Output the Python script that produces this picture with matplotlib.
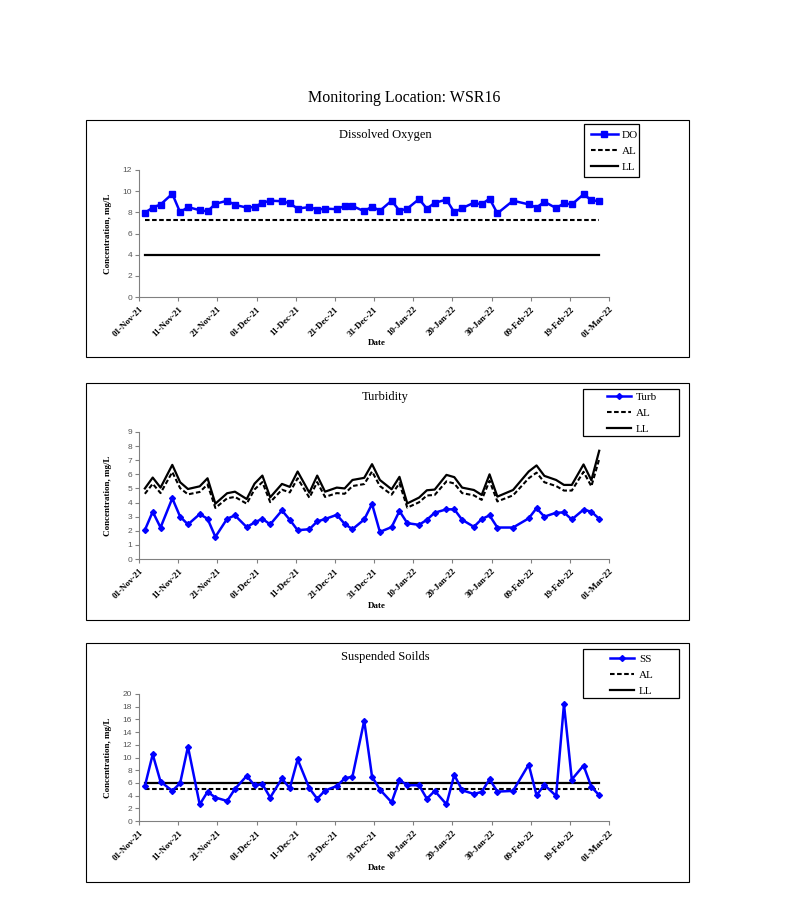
import numpy as np
import matplotlib
matplotlib.use("Agg")
import matplotlib.pyplot as plt
import matplotlib.dates as mdates
from matplotlib.patches import Rectangle

# ---------------- data ----------------
dates = ["2021-11-02", "2021-11-04", "2021-11-06", "2021-11-09", "2021-11-11", "2021-11-13",
         "2021-11-16", "2021-11-18", "2021-11-20", "2021-11-23", "2021-11-25", "2021-11-28",
         "2021-11-30", "2021-12-02", "2021-12-04", "2021-12-07", "2021-12-09", "2021-12-11",
         "2021-12-14", "2021-12-16", "2021-12-18", "2021-12-21", "2021-12-23", "2021-12-25",
         "2021-12-28", "2021-12-30", "2022-01-01", "2022-01-04", "2022-01-06", "2022-01-08",
         "2022-01-11", "2022-01-13", "2022-01-15", "2022-01-18", "2022-01-20", "2022-01-22",
         "2022-01-25", "2022-01-27", "2022-01-29", "2022-01-31", "2022-02-04", "2022-02-08",
         "2022-02-10", "2022-02-12", "2022-02-15", "2022-02-17", "2022-02-19", "2022-02-22",
         "2022-02-24", "2022-02-26"]

do_values = [7.95, 8.45, 8.74, 9.75, 8.0, 8.5, 8.2, 8.1, 8.8, 9.1, 8.7, 8.45, 8.5, 8.9, 9.1,
             9.05, 8.85, 8.35, 8.5, 8.25, 8.35, 8.3, 8.6, 8.6, 8.1, 8.55, 8.15, 9.1, 8.15, 8.35,
             9.25, 8.35, 8.9, 9.2, 8.0, 8.4, 8.9, 8.75, 9.3, 7.9, 9.1, 8.75, 8.45, 9.0, 8.4,
             8.85, 8.75, 9.7, 9.15, 9.05]
do_al = 7.3
do_ll = 4.0

turb_values = [2.05, 3.35, 2.23, 4.3, 3.0, 2.45, 3.18, 2.85, 1.57, 2.85, 3.09, 2.26, 2.59, 2.85,
               2.45, 3.44, 2.78, 2.04, 2.11, 2.66, 2.83, 3.13, 2.49, 2.11, 2.8, 3.9, 1.92, 2.26,
               3.4, 2.54, 2.42, 2.78, 3.28, 3.52, 3.52, 2.78, 2.28, 2.83, 3.09, 2.23, 2.23, 2.88,
               3.6, 3.0, 3.28, 3.3, 2.8, 3.5, 3.35, 2.85]
turb_ll = [5.0, 5.77, 5.06, 6.67, 5.44, 4.96, 5.15, 5.72, 3.92, 4.66, 4.77, 4.25, 5.34, 5.91,
           4.37, 5.32, 5.11, 6.2, 4.7, 5.91, 4.77, 5.06, 5.0, 5.6, 5.75, 6.72, 5.6, 4.94, 5.82,
           3.94, 4.35, 4.87, 4.92, 5.96, 5.8, 5.06, 4.89, 4.54, 6.0, 4.42, 4.89, 6.2, 6.63,
           5.89, 5.6, 5.25, 5.25, 6.7, 5.58, 7.67]
turb_al = [4.62, 5.33, 4.67, 6.16, 5.02, 4.58, 4.75, 5.28, 3.62, 4.30, 4.40, 3.92, 4.93, 5.45,
           4.03, 4.91, 4.72, 5.72, 4.34, 5.45, 4.40, 4.67, 4.62, 5.17, 5.31, 6.20, 5.17, 4.56,
           5.37, 3.64, 4.02, 4.50, 4.54, 5.50, 5.35, 4.67, 4.51, 4.19, 5.54, 4.08, 4.51, 5.72,
           6.12, 5.44, 5.17, 4.85, 4.85, 6.18, 5.15, 7.08]

ss_values = [5.5, 10.5, 6.2, 4.75, 5.95, 11.7, 2.6, 4.6, 3.7, 3.15, 5.05, 7.1, 5.6, 5.8, 3.7,
             6.7, 5.15, 9.7, 5.15, 3.5, 4.8, 5.5, 6.7, 7.0, 15.8, 7.0, 4.95, 2.95, 6.47, 5.63,
             5.63, 3.5, 4.74, 2.63, 7.26, 4.84, 4.26, 4.58, 6.58, 4.63, 4.74, 8.89, 4.05, 5.68,
             3.95, 18.4, 6.53, 8.74, 5.37, 4.05]
ss_al = 5.0
ss_ll = 6.0

main_title = "Monitoring Location: WSR16"
panel_titles = ["Dissolved Oxygen", "Turbidity", "Suspended Soilds"]
series_names = ["DO", "Turb", "SS"]
x_start, x_end = "2021-11-01", "2022-03-01"

# ---------------- figure ----------------
W, H = 794, 914
fig = plt.figure(figsize=(W / 100, H / 100), dpi=100)
fig.patch.set_facecolor("white")

SERIF = ["Liberation Serif", "DejaVu Serif"]
SANS = ["Liberation Sans", "DejaVu Sans"]

def fx(px):
    return px / W

def fy(py):
    return 1 - py / H

def frame(x0, y0, x1, y1, lw):
    fig.patches.append(Rectangle((fx(x0), fy(y1)), fx(x1 - x0), (y1 - y0) / H,
                                 transform=fig.transFigure, fill=False, edgecolor="black",
                                 linewidth=lw, zorder=10))

fig.text(fx(404), fy(98), main_title, ha="center", va="center", fontsize=11.5, family=SERIF)

x = np.array(dates, dtype="datetime64[D]") + np.timedelta64(12, "h")
x = x.astype("datetime64[m]").astype(object)

panels = [
    dict(box=(86, 120, 689, 357), ax=(139, 170, 609, 297), ylim=(0, 12), ystep=2,
         y=do_values, al=[do_al] * len(dates), ll=[do_ll] * len(dates), marker="s", ms=4.5,
         legbox=(584, 124, 639, 177), leganchor=(591, 130), hl=2.4,
         title_y=135, date_y=343),
    dict(box=(86, 383, 689, 620), ax=(139, 432, 609, 559), ylim=(0, 9), ystep=1,
         y=turb_values, al=turb_al, ll=turb_ll, marker="D", ms=3,
         legbox=(583, 389, 679, 436), leganchor=(607, 392), hl=2.2,
         title_y=397, date_y=606),
    dict(box=(86, 643, 689, 882), ax=(139, 694, 609, 821), ylim=(0, 20), ystep=2,
         y=ss_values, al=[ss_al] * len(dates), ll=[ss_ll] * len(dates), marker="D", ms=3,
         legbox=(583, 649, 679, 698), leganchor=(610, 654), hl=2.2,
         title_y=657, date_y=868),
]

blue = "#0000FF"
for i, p in enumerate(panels):
    frame(*p["box"], lw=0.8)
    ax0, ay0, ax1, ay1 = p["ax"]
    ax = fig.add_axes([fx(ax0), fy(ay1), fx(ax1 - ax0), (ay1 - ay0) / H])
    l1, = ax.plot(x, p["y"], color=blue, lw=1.8, marker=p["marker"], ms=p["ms"],
                  mfc=blue, mec=blue, label=series_names[i], zorder=4)
    l2, = ax.plot(x, p["al"], color="black", lw=1.5, ls=(0, (2.2, 1.2)), label="AL", zorder=3)
    l3, = ax.plot(x, p["ll"], color="black", lw=1.6, label="LL", zorder=3)

    ax.set_xlim(np.datetime64(x_start).astype(object), np.datetime64(x_end).astype(object))
    ticks = np.arange(np.datetime64(x_start), np.datetime64(x_end) + 1, 10).astype(object)
    ax.set_xticks(ticks)
    ax.xaxis.set_major_formatter(mdates.DateFormatter("%d-%b-%y"))
    ax.set_ylim(*p["ylim"])
    ax.set_yticks(np.arange(p["ylim"][0], p["ylim"][1] + 0.001, p["ystep"]))

    for s in ["top", "right"]:
        ax.spines[s].set_visible(False)
    for s in ["left", "bottom"]:
        ax.spines[s].set_color("#808080")
        ax.spines[s].set_linewidth(0.8)
    ax.tick_params(axis="both", direction="out", length=3, width=0.8, color="#808080")
    ax.tick_params(axis="y", labelsize=6, labelcolor="#555555", pad=2)
    for lab in ax.get_yticklabels():
        lab.set_family(SANS)
    for lab in ax.get_xticklabels():
        lab.set_family(SERIF)
        lab.set_fontweight("bold")
        lab.set_fontsize(6.5)
        lab.set_rotation(45)
        lab.set_ha("right")
        lab.set_va("top")
        lab.set_rotation_mode("anchor")
    ax.tick_params(axis="x", pad=3)

    fig.text(fx(385), fy(p["title_y"]), panel_titles[i], ha="center", va="center",
             fontsize=9, family=SERIF)
    fig.text(fx(377), fy(p["date_y"]), "Date", ha="center", va="center",
             fontsize=6.5, family=SERIF, fontweight="bold")
    fig.text(fx(108), fy((ay0 + ay1) / 2), "Concentration, mg/L", ha="center", va="center",
             rotation=90, fontsize=6.5, family=SERIF, fontweight="bold")

    frame(*p["legbox"], lw=0.9)
    lax, lay = p["leganchor"]
    leg = ax.legend(handles=[l1, l2, l3], loc="upper left",
                    bbox_to_anchor=(fx(lax), fy(lay)), bbox_transform=fig.transFigure,
                    frameon=False, prop=dict(family=SERIF, size=8), handlelength=p["hl"],
                    handletextpad=0.4, labelspacing=0.55, borderpad=0, borderaxespad=0)

fig.savefig("out.png", dpi=100, facecolor="white")
